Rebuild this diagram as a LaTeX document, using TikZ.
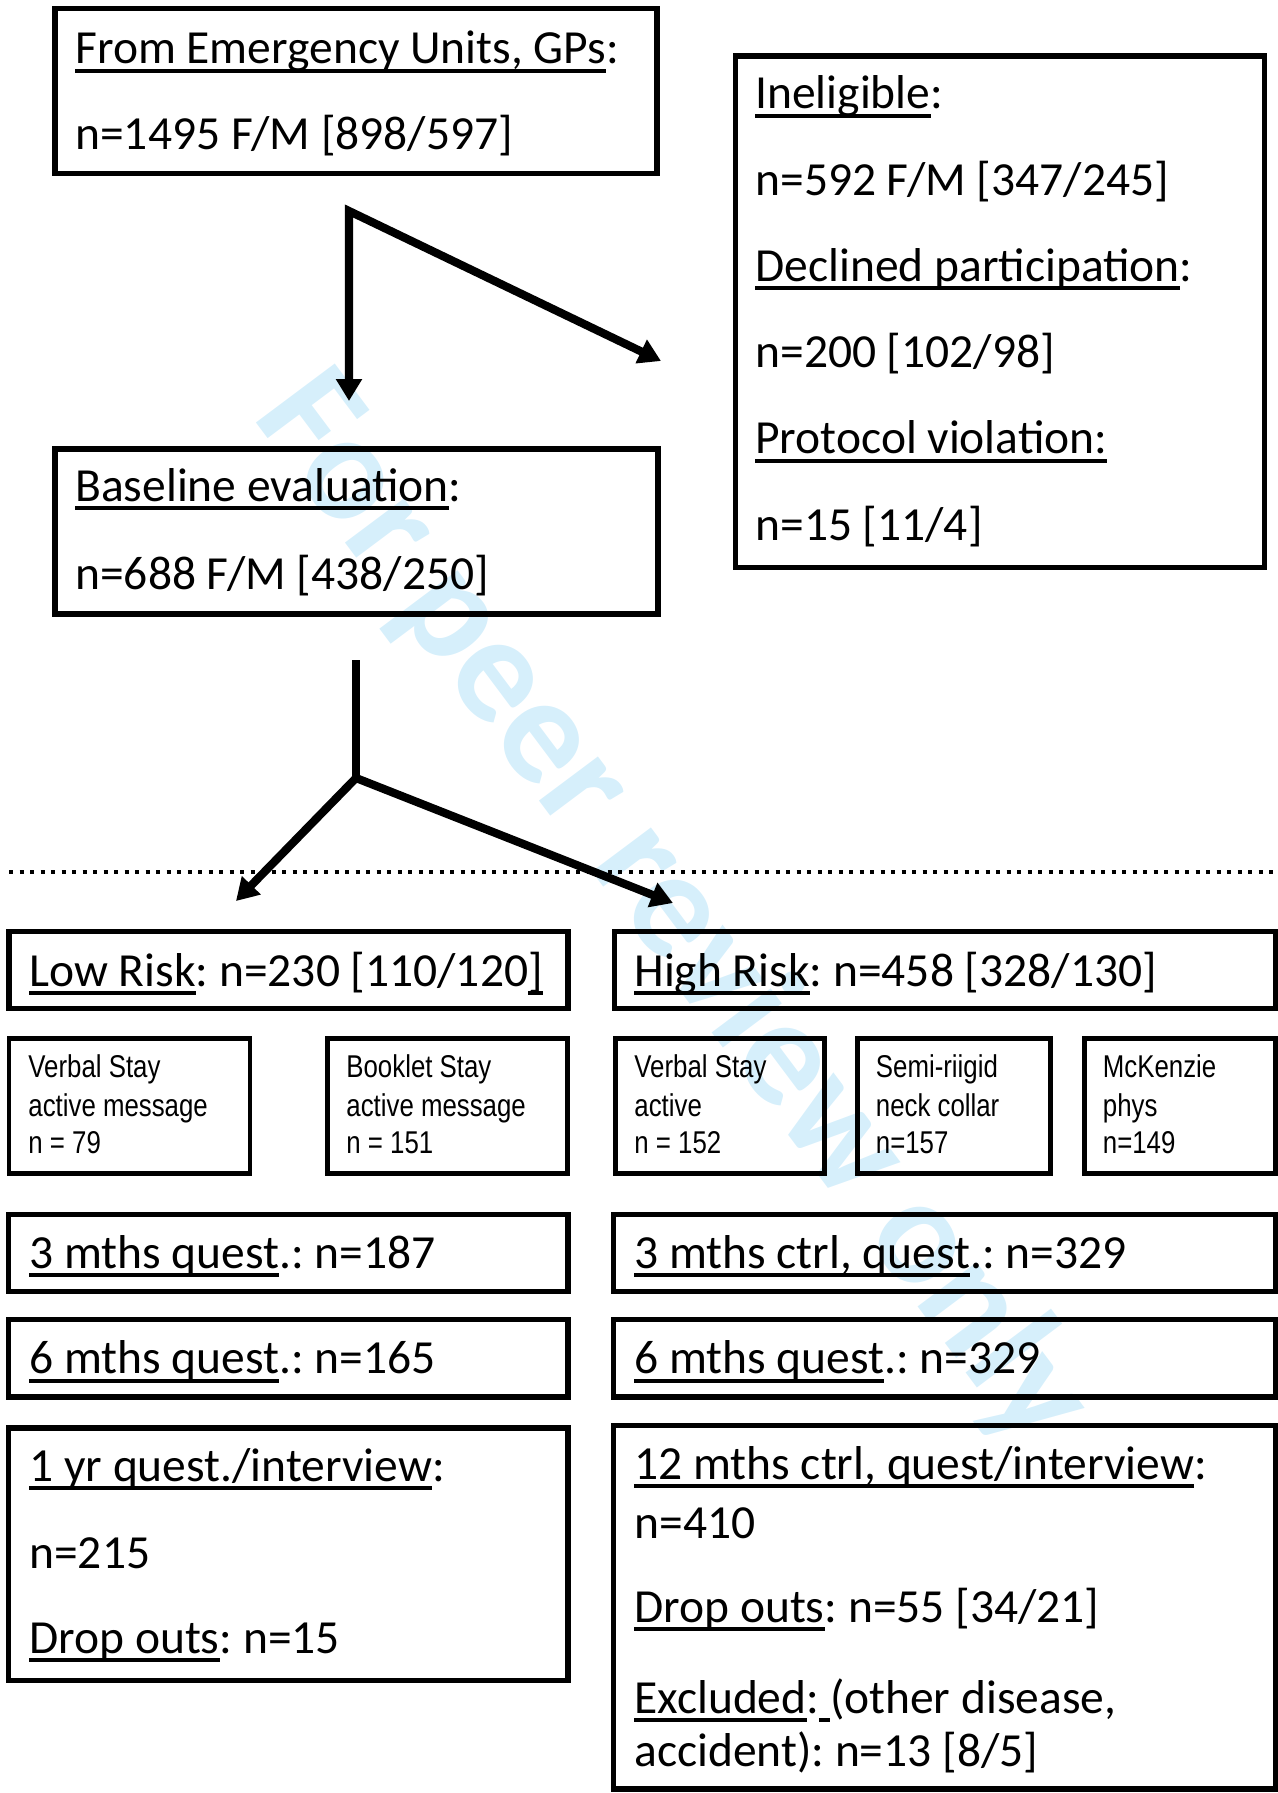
\documentclass[tikz,border=0pt]{standalone}
\usepackage{fontspec}
\setmainfont{Carlito}
\newfontfamily\narrowfont[FakeStretch=0.82]{Liberation Sans}
\newsavebox\myulbox
\newcommand{\myul}[1]{\sbox\myulbox{#1}\rlap{\rule[-4.5pt]{\wd\myulbox}{2pt}}\usebox\myulbox}
\usetikzlibrary{arrows.meta,fit}
\definecolor{wmblue}{RGB}{214,239,251}
\frenchspacing
\tikzset{
  box/.style={draw, line width=2.6pt, inner sep=0pt, rectangle},
  sbox/.style={draw, line width=2.3pt, inner sep=0pt, rectangle},
  lab/.style={anchor=base west, inner sep=0pt, font=\frenchspacing\fontsize{23.75}{28}\selectfont},
  sml/.style={anchor=base west, inner sep=0pt, font=\narrowfont\fontsize{15.75}{19}\selectfont},
  arrtwo/.style={line width=4.1pt, {Triangle[length=11pt,width=12.5pt]}-{Triangle[length=11pt,width=12.5pt]}},
  plain/.style={line width=4.1pt},
  dotline/.style={line width=2pt, dash pattern=on 2pt off 3.25pt},
  wm/.style={text=wmblue, inner sep=0pt, font=\bfseries\fontsize{76}{76}\selectfont}
}
\begin{document}
\begin{tikzpicture}[x=0.5pt, y=-0.5pt]
\useasboundingbox (0,0) rectangle (1278,1793);
% watermark
\node[wm, rotate=-53.2] (wmark) at (672,910) {For peer review only};

% top boxes
\node[box, fit={(55,8.5) (657,173.5)}] (b1) {};
\node[lab] (b1a) at (75,64) {\myul{From Emergency Units, GPs}:};
\node[lab] (b1b) at (75,149) {n=1495 F/M [898/597]};

\node[box, fit={(55,449) (658,614)}] (b2) {};
\node[lab] (b2a) at (75,501) {\myul{Baseline evaluation}:};
\node[lab] (b2b) at (75,589) {n=688 F/M [438/250]};

\node[box, fit={(735.5,56) (1264.5,567.5)}] (b3) {};
\node[lab] (b3a) at (755,109) {\myul{Ineligible}:};
\node[lab] (b3b) at (755,195) {n=592 F/M [347/245]};
\node[lab] (b3c) at (755,281) {\myul{Declined participation}:};
\node[lab] (b3d) at (755,367) {n=200 [102/98]};
\node[lab] (b3e) at (755,453.5) {\myul{Protocol violation:}};
\node[lab] (b3f) at (755,540) {n=15 [11/4]};

% connectors top
\coordinate (j1) at (349,211);
\coordinate (t1) at (349,401);
\coordinate (t2) at (661,361);
\draw[arrtwo] (t1) -- (j1) -- (t2);

\coordinate (v2) at (356,660);
\coordinate (j2) at (356,778);
\coordinate (t3) at (236,901);
\coordinate (t4) at (673,903);
\draw[plain] (v2) -- (j2);
\draw[arrtwo] (t3) -- (j2) -- (t4);

% dotted separator
\coordinate (d1) at (9,871.5);
\coordinate (d2) at (1278,871.5);
\draw[dotline] (d1) -- (d2);

% risk boxes
\node[box, fit={(9,931.5) (568,1008.5)}] (low) {};
\node[lab] (lowt) at (29,986) {\myul{Low Risk}: n=230 [110/120\myul{]}};
\node[box, fit={(614.5,931.5) (1275.5,1008.5)}] (high) {};
\node[lab] (hight) at (634,986) {\myul{High Risk}: n=458 [328/130]};

% small boxes
\node[sbox, fit={(9,1038.5) (250,1173.5)}] (sa) {};
\node[sml] (sa1) at (28,1077) {Verbal Stay};
\node[sml] (sa2) at (28,1116) {active message};
\node[sml] (sa3) at (28,1153) {n = 79};

\node[sbox, fit={(327.5,1038.5) (567.5,1173.5)}] (sb) {};
\node[sml] (sb1) at (346,1077) {Booklet Stay};
\node[sml] (sb2) at (346,1116) {active message};
\node[sml] (sb3) at (346,1153) {n = 151};

\node[sbox, fit={(615.5,1038.5) (824.5,1173.5)}] (sc) {};
\node[sml] (sc1) at (634,1077) {Verbal Stay};
\node[sml] (sc2) at (634,1116) {active};
\node[sml] (sc3) at (634,1153) {n = 152};

\node[sbox, fit={(857.5,1038.5) (1050.5,1173.5)}] (sd) {};
\node[sml] (sd1) at (875.5,1077) {Semi-riigid};
\node[sml] (sd2) at (875.5,1116) {neck collar};
\node[sml] (sd3) at (875.5,1153) {n=157};

\node[sbox, fit={(1084.5,1038.5) (1275.5,1173.5)}] (se) {};
\node[sml] (se1) at (1102.5,1077) {McKenzie};
\node[sml] (se2) at (1102.5,1116) {phys};
\node[sml] (se3) at (1102.5,1153) {n=149};

% follow-up boxes left
\node[box, fit={(8.5,1214.5) (568,1291.5)}] (l3) {};
\node[lab] (l3t) at (29,1268) {\myul{3 mths quest}.: n=187};
\node[box, fit={(8.5,1319.5) (568,1397)}] (l6) {};
\node[lab] (l6t) at (29,1373.5) {\myul{6 mths quest}.: n=165};
\node[box, fit={(8.5,1428) (568,1680.5)}] (l12) {};
\node[lab] (l12a) at (29,1481) {\myul{1 yr quest./interview}:};
\node[lab] (l12b) at (29,1568) {n=215};
\node[lab] (l12c) at (29,1653) {\myul{Drop outs}: n=15};

% follow-up boxes right
\node[box, fit={(613.5,1214.5) (1275.5,1291.5)}] (r3) {};
\node[lab] (r3t) at (634,1268) {\myul{3 mths ctrl, quest}.: n=329};
\node[box, fit={(613.5,1319.5) (1275.5,1397)}] (r6) {};
\node[lab] (r6t) at (634,1373.5) {\myul{6 mths quest}.: n=329};
\node[box, fit={(613.5,1425.5) (1275.5,1789)}] (r12) {};
\node[lab] (r12a) at (634,1479) {\myul{12 mths ctrl, quest/interview}:};
\node[lab] (r12b) at (634,1538) {n=410};
\node[lab] (r12c) at (634,1622) {\myul{Drop outs}: n=55 [34/21]};
\node[lab] (r12d) at (634,1713) {\myul{Excluded}:\myul{\ }(other disease,};
\node[lab] (r12e) at (634,1766) {accident): n=13 [8/5]};
\end{tikzpicture}
\end{document}
